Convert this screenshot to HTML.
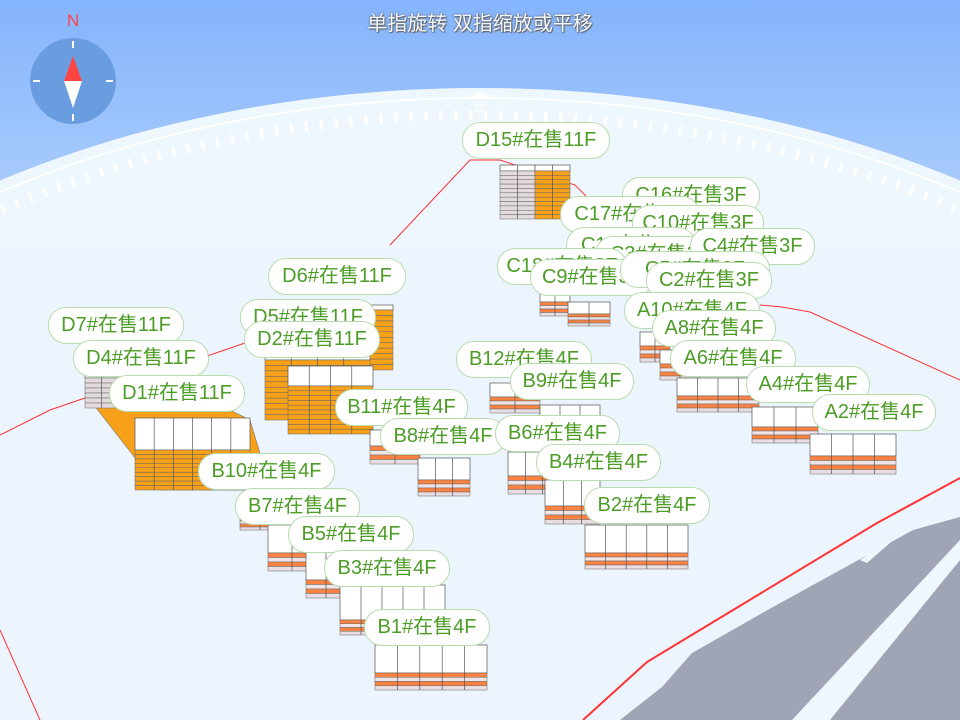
<!DOCTYPE html>
<html><head><meta charset="utf-8"><style>
html,body{margin:0;padding:0;overflow:hidden;width:960px;height:720px}
body{position:relative;font-family:"Liberation Sans","Noto Sans CJK SC",sans-serif}
svg{position:absolute;left:0;top:0}
.l{position:absolute;height:37px;line-height:35px;border:1.5px solid #b9dcae;border-radius:18px;background:#fff;color:#4c9c26;font-size:20px;text-align:center;box-sizing:border-box;white-space:nowrap;overflow:hidden}
.t{position:absolute;left:0;width:960px;top:7px;text-align:center;color:#f4f7fb;font-size:20px;text-shadow:0 0 2px #555,1px 1px 1px #666}
</style></head><body>
<svg width="960" height="720" viewBox="0 0 960 720">
<defs>
<linearGradient id="sky" x1="0" y1="0" x2="0" y2="1"><stop offset="0" stop-color="#84b4fc"/><stop offset="0.35" stop-color="#b4d3fb"/><stop offset="1" stop-color="#dceafb"/></linearGradient>
</defs>
<rect width="960" height="720" fill="url(#sky)"/>
<ellipse cx="480" cy="688" rx="900" ry="600" fill="#eef6fe"/>
<ellipse cx="480" cy="688" rx="885" ry="590" fill="none" stroke="#fff" stroke-width="2"/>
<ellipse cx="480" cy="688" rx="868" ry="573" fill="none" stroke="#fff" stroke-width="10" stroke-dasharray="3 12"/>
<polygon points="467,98 480,92 493,98" fill="#fff"/>
<text x="480" y="113" font-size="14" fill="#fff" text-anchor="middle">北</text>
<rect x="0" y="250" width="960" height="470" fill="#e9f2fc" opacity="0.5"/>
<polygon points="620,720 662,687 692,653 773,607 913,530 960,517 960,720" fill="#a0a5b5"/>
<polygon points="960,540 960,560 830,720 792,720" fill="#eef6fe"/>
<polygon points="867,563 907,528 860,560" fill="#eef6fe"/>
<g fill="none" stroke="#f33" stroke-width="1">
<polyline points="0,435 50,410 245,343"/>
<polyline points="390,245 470,160 500,160 575,185 590,200"/>
<polyline points="760,305 782,307 810,312 960,380"/>
<polyline points="0,630 40,720"/>
</g>
<polyline points="583,720 647,662 877,523 960,478" fill="none" stroke="#f33" stroke-width="2"/>
<g id="bl"></g>
<circle cx="73" cy="81" r="43" fill="#6a9de0"/>
<rect x="72" y="41" width="2" height="7" fill="#fff"/><rect x="72" y="114" width="2" height="7" fill="#fff"/>
<rect x="33" y="80" width="7" height="2" fill="#fff"/><rect x="106" y="80" width="7" height="2" fill="#fff"/>
<polygon points="73,56 64,81 82,81" fill="#f44"/>
<polygon points="73,108 64,81 82,81" fill="#fff"/>
<text x="73" y="26" font-size="17" fill="#f44" text-anchor="middle">N</text>
</svg>
<div class="t">单指旋转 双指缩放或平移</div>
<div id="labels"></div>
<script>
var S='';
function bld(x,y,w,th,fh,n,fl,scheme){
  var s='';
  s+='<rect x="'+x+'" y="'+y+'" width="'+w+'" height="'+th+'" fill="#fff" stroke="#555" stroke-width="0.7"/>';
  var fy=y+th, h=fh/fl;
  for(var i=0;i<fl;i++){
    var c;
    if(scheme=='o') c='#f7a11a';
    else if(scheme=='g') c='#e3dadd';
    else c=['#fb8240','#f0e4e6','#fb8240','#e8dde0'][i%4];
    s+='<rect x="'+x+'" y="'+(fy+i*h)+'" width="'+w+'" height="'+h+'" fill="'+c+'" stroke="#666" stroke-width="0.5"/>';
  }
  for(var j=1;j<n;j++){var xx=x+w*j/n;s+='<line x1="'+xx+'" y1="'+y+'" x2="'+xx+'" y2="'+(fy+fh)+'" stroke="#555" stroke-width="0.7"/>';}
  S+=s;
}
bld(500,165,35,6,48,2,11,'g');bld(535,165,35,6,48,2,11,'o');
S+='<polygon points="85,378 190,390 250,420 265,470 255,490 160,490 90,400" fill="#f7a11a" stroke="#777" stroke-width="0.6"/>';
bld(85,370,50,8,30,3,6,'g');
bld(135,418,115,32,40,6,9,'o');
bld(345,305,48,5,60,2,11,'o');
bld(265,352,105,8,60,4,11,'o');
bld(288,366,85,20,48,4,10,'o');
bld(540,290,30,12,14,2,4,'b');bld(568,302,42,12,12,2,4,'b');
bld(640,332,30,14,16,2,4,'b');bld(660,350,40,14,16,2,4,'b');
bld(677,378,82,18,16,4,4,'b');bld(752,407,66,20,16,3,4,'b');bld(810,434,86,22,18,4,4,'b');
bld(490,383,50,14,16,2,4,'b');bld(540,405,60,12,12,3,4,'b');
bld(370,430,50,16,18,2,4,'b');bld(418,458,52,22,16,3,4,'b');
bld(508,452,52,24,18,3,4,'b');bld(545,480,55,26,18,3,4,'b');
bld(585,525,103,28,16,5,4,'b');
bld(240,508,60,10,12,3,4,'b');bld(268,525,72,28,18,3,4,'b');
bld(306,550,80,30,18,4,4,'b');bld(340,585,105,35,15,5,4,'b');
bld(375,645,112,28,17,5,4,'b');
document.getElementById('bl').innerHTML=S;
var L=[
['D15#在售11F',462,122,148],
['C16#在售3F',622,177,138],['C17#在售3F',560,196,140],['C10#在售3F',632,205,132],
['C1#在售3F',566,227,130],['C3#在售3F',595,236,130],['C4#在售3F',690,228,125],
['C18#在售3F',497,248,130],['C9#在售3F',530,259,124],['C5#在售3F',620,251,150],['C2#在售3F',646,262,126],
['A10#在售4F',624,292,136],['A8#在售4F',652,310,124],['A6#在售4F',670,340,126],['A4#在售4F',746,366,124],['A2#在售4F',812,394,124],
['D6#在售11F',268,258,138],['D5#在售11F',240,299,136],['D2#在售11F',244,321,136],
['D7#在售11F',48,307,136],['D4#在售11F',73,340,136],['D1#在售11F',109,375,136],
['B12#在售4F',456,341,136],['B9#在售4F',510,363,124],['B11#在售4F',335,389,133],['B8#在售4F',380,418,126],
['B6#在售4F',495,415,125],['B4#在售4F',536,444,125],['B10#在售4F',198,453,137],['B2#在售4F',584,487,126],
['B7#在售4F',235,488,125],['B5#在售4F',288,516,126],['B3#在售4F',324,550,126],['B1#在售4F',364,609,126]];
var h='';
L.forEach(function(a){h+='<div class="l" style="left:'+a[1]+'px;top:'+a[2]+'px;width:'+a[3]+'px">'+a[0]+'</div>';});
document.getElementById('labels').innerHTML=h;
</script>
</body></html>
